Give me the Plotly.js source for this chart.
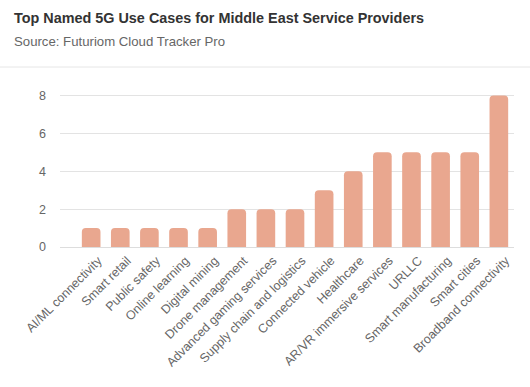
<!DOCTYPE html>
<html>
<head>
<meta charset="utf-8">
<script src="https://cdn.plot.ly/plotly-3.0.1.min.js"></script>
<style>html,body{margin:0;padding:0;background:#fff;}#chart{width:530px;height:387px;}</style>
</head>
<body>
<div id="chart"></div>
<script>
const categories = ["AI/ML connectivity","Smart retail","Public safety","Online learning","Digital mining","Drone management","Advanced gaming services","Supply chain and logistics","Connected vehicle","Healthcare","AR/VR immersive services","URLLC","Smart manufacturing","Smart cities","Broadband connectivity"];
const values = [1,1,1,1,1,2,2,2,3,4,5,5,5,5,8];
const yTicks = [0,2,4,6,8];
const titleText = "Top Named 5G Use Cases for Middle East Service Providers";
const subtitleText = "Source: Futuriom Cloud Tracker Pro";

const W = 530, H = 387;
const m = {l: 60, r: 16, t: 88, b: 140};
const pw = W - m.l - m.r, ph = H - m.t - m.b;
const px = x => (x - m.l) / pw;
const py = y => 1 - (y - m.t) / ph;

Plotly.newPlot('chart', [{
  type: 'bar',
  x: categories,
  y: values,
  marker: {color: '#e9a78f', cornerradius: 4},
  hoverinfo: 'x+y'
}], {
  width: W, height: H,
  margin: m,
  paper_bgcolor: '#fff', plot_bgcolor: '#fff',
  bargap: 0.36,
  font: {family: 'Liberation Sans, Arial, sans-serif', color: '#666', size: 12},
  showlegend: false,
  xaxis: {range: [-1.07, 14.52], tickangle: -45, tickfont: {size: 12.5, color: '#666'}, showgrid: false, showline: false, ticks: '', ticklabelshift: 7, ticklabelstandoff: 3, automargin: false},
  yaxis: {range: [0, 8.4], tickvals: yTicks, gridcolor: '#e3e3e3', zerolinecolor: '#dddddd', tickfont: {size: 12.5, color: '#666'}, ticks: '', ticklabelstandoff: 13, automargin: false, fixedrange: true},
  shapes: [{type: 'line', xref: 'paper', yref: 'paper', x0: px(0), x1: px(W), y0: py(67), y1: py(67), line: {color: '#e6e6e6', width: 1}}],
  annotations: [
    {text: titleText, xref: 'paper', yref: 'paper', x: px(12), y: py(18), xanchor: 'left', yanchor: 'middle', showarrow: false, font: {size: 14.4, color: '#333', family: 'Liberation Sans, Arial, sans-serif', weight: 'bold'}},
    {text: subtitleText, xref: 'paper', yref: 'paper', x: px(12), y: py(41), xanchor: 'left', yanchor: 'middle', showarrow: false, font: {size: 13.2, color: '#666', family: 'Liberation Sans, Arial, sans-serif'}}
  ]
}, {displayModeBar: false, staticPlot: true});
</script>
</body>
</html>
